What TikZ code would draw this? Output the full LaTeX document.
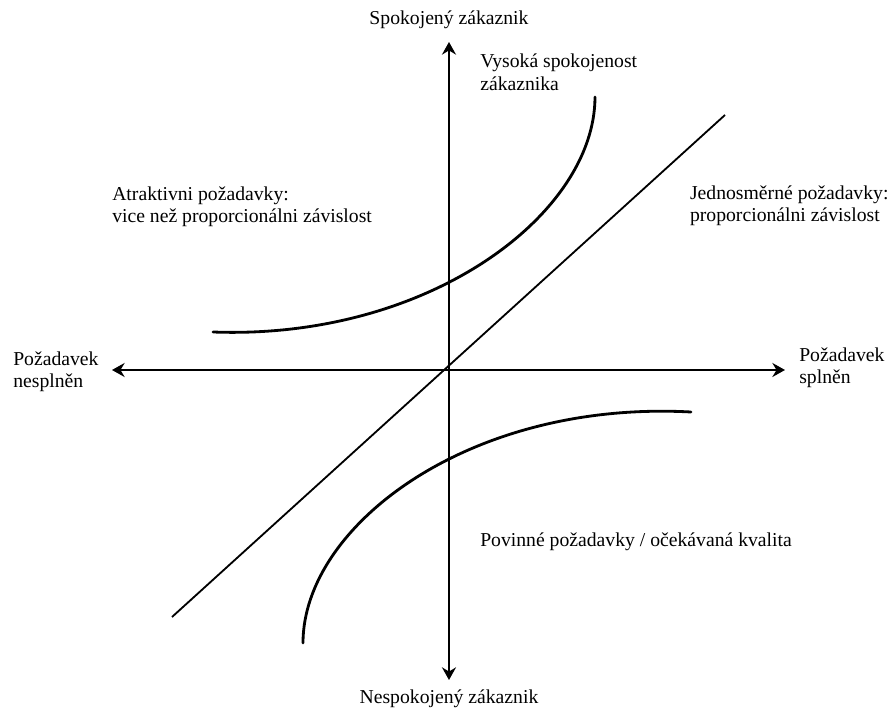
\documentclass[tikz,border=0pt]{standalone}
\usepackage{fontspec}
\setmainfont{Liberation Serif}
\usetikzlibrary{positioning, arrows.meta}
\definecolor{Ink}{HTML}{000000}
\tikzset{
    axis/.style={line width=1.8pt, color=Ink, >={Stealth[length=9pt, width=10pt, inset=3pt]}},
    kano/.style={line width=2pt, color=Ink, line cap=round},
    linear/.style={line width=1.3pt, color=Ink},
    label/.style={font=\fontsize{14}{16}\selectfont, text=Ink, align=left, inner sep=0pt},
}

\begin{document}
\begin{tikzpicture}
                \useasboundingbox (-11.225,-8.45) rectangle (11.05,9.25);

                % Osy
                \coordinate (O) at (0,0);
                \coordinate (xl) at (-8.425,0);
                \coordinate (xr) at (8.4,0);
                \coordinate (yt) at (0,8.2);
                \coordinate (yb) at (0,-7.75);
                \draw[axis, <->] (xl) -- (xr);
                \draw[axis, <->] (yb) -- (yt);

                % Popisky os
                \node[label, align=center] (spok) at (0,8.75) {Spokojený zákaznik};
                \node[label, align=center] (nespok) at (0,-8.22) {Nespokojený zákaznik};
                \node[label, anchor=west] (nespln) at (-10.9,-0.05) {Požadavek\\nesplněn};
                \node[label, anchor=west] (spln) at (8.75,0.05) {Požadavek\\splněn};

                % Jednosměrné požadavky
                \coordinate (lin1) at (-6.925,-6.175);
                \coordinate (lin2) at (6.9,6.375);
                \draw[linear] (lin1) -- (lin2);

                % Atraktivní a povinné požadavky
                \coordinate (atr1) at (-5.9,0.95);
                \coordinate (atr2) at (3.65,6.825);
                \draw[kano] (atr1) .. controls (-0.5,0.75) and (3.65,3.9) .. (atr2);
                \coordinate (pov1) at (-3.65,-6.825);
                \coordinate (pov2) at (6.05,-1.05);
                \draw[kano] (pov1) .. controls (-3.65,-3.9) and (0.5,-0.75) .. (pov2);

                % Texty kvadrantů
                \node[label, anchor=west] (vysoka) at (0.775,7.44) {Vysoká spokojenost\\zákaznika};
                \node[label, anchor=west] (atrakt) at (-8.425,4.075) {Atraktivni požadavky:\\vice než proporcionálni závislost};
                \node[label, anchor=west] (jednosm) at (6.02,4.1) {Jednosměrné požadavky:\\proporcionálni závislost};
                \node[label, anchor=west] (povin) at (0.775,-4.3) {Povinné požadavky / očekávaná kvalita};
\end{tikzpicture}
\end{document}
